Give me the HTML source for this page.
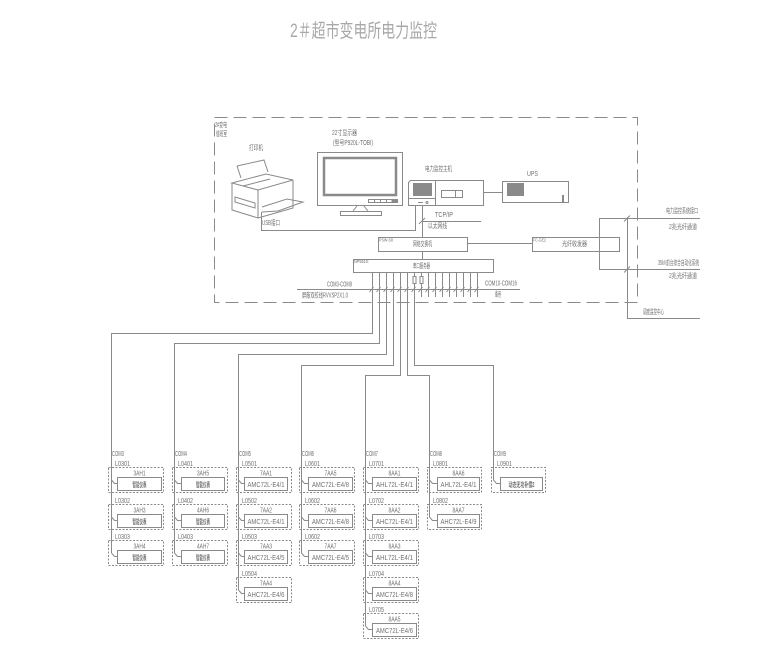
<!DOCTYPE html>
<html><head><meta charset="utf-8"><style>
html,body{margin:0;padding:0;background:#fff;}
svg{display:block}
text{font-family:"Liberation Sans","Noto Sans CJK SC",sans-serif;fill:#707070;font-size:7px}
.s{font-size:4.5px}
.c{text-anchor:middle}
</style></head><body>
<svg width="765" height="669" viewBox="0 0 765 669" xmlns="http://www.w3.org/2000/svg">
<text x="290" y="37" style="font-size:19px;fill:#a8a8a8" textLength="147" lengthAdjust="spacingAndGlyphs">2＃超市变电所电力监控</text>

<g fill="none" stroke="#8a8a8a" stroke-width="1">
<rect x="214.5" y="117.5" width="423" height="185" stroke-dasharray="13 6"/>

<!-- printer -->
<polyline points="237,166 264,160 268,172"/>
<polyline points="237,166 241,178"/>
<polygon points="232,183 266,174 293,180 258,190"/>
<polyline points="232,183 232,210 258,218 258,190"/>
<polyline points="293,180 293,208 258,218"/>
<line x1="243" y1="186" x2="270" y2="179"/>
<polygon points="235,197 255,203 255,208 235,202"/>
<polyline points="262,207 287,199 303,202 278,211 262,212"/>

<!-- monitor -->
<rect x="317.5" y="152.5" width="85" height="53"/>
<rect x="324" y="158" width="72" height="37" stroke-width="2.5"/>
<rect x="368.5" y="199.5" width="29" height="3"/>
<line x1="374.5" y1="199" x2="374.5" y2="203"/>
<line x1="380.5" y1="199" x2="380.5" y2="203"/>
<line x1="386.5" y1="199" x2="386.5" y2="203"/>
<rect x="392" y="199.5" width="5" height="3" fill="#8a8a8a"/>
<line x1="357" y1="206" x2="353" y2="211"/>
<line x1="364" y1="206" x2="368" y2="211"/>
<rect x="340.5" y="211.5" width="41" height="4"/>

<!-- computer -->
<polygon points="410.5,180.5 483.5,180.5 483.5,205.5 408.5,205.5 408.5,182.5"/>
<line x1="435.5" y1="180" x2="435.5" y2="205"/>
<line x1="408" y1="198.5" x2="435" y2="198.5"/>
<rect x="413" y="183" width="19" height="13" fill="#8a8a8a" stroke="none"/>
<line x1="418" y1="202.5" x2="423" y2="202.5"/>
<circle cx="427" cy="202.5" r="1"/>
<rect x="441.5" y="190.5" width="21" height="7"/>
<line x1="455.5" y1="190" x2="455.5" y2="197"/>

<!-- UPS -->
<rect x="502.5" y="181.5" width="66" height="21"/>
<rect x="507" y="183" width="17" height="13" fill="#8a8a8a" stroke="none"/>
<rect x="562" y="195" width="2" height="7" fill="#8a8a8a" stroke="none"/>
<line x1="483" y1="192.5" x2="502" y2="192.5"/>

<!-- usb / tcp -->
<polyline points="261.5,212 261.5,230.5 415.5,230.5 415.5,205"/>
<line x1="422.5" y1="205" x2="422.5" y2="237"/>
<line x1="419" y1="224" x2="425" y2="218"/>
<line x1="422" y1="221.5" x2="481" y2="221.5"/>

<!-- switch, fiber, terminal -->
<rect x="378.5" y="237.5" width="89" height="14"/>
<line x1="467" y1="243.5" x2="532" y2="243.5"/>
<rect x="532.5" y="237.5" width="87" height="14"/>
<line x1="422.5" y1="251" x2="422.5" y2="259"/>
<rect x="353.5" y="259.5" width="140" height="13"/>

<!-- right side -->
<line x1="599.5" y1="218" x2="599.5" y2="269.5"/>
<line x1="599" y1="218.5" x2="700" y2="218.5"/>
<line x1="599" y1="269.5" x2="700" y2="269.5"/>
<line x1="627.5" y1="217" x2="627.5" y2="318.5"/>
<line x1="627" y1="318.5" x2="700" y2="318.5"/>
<line x1="624" y1="221.5" x2="630" y2="215.5"/>
<line x1="624" y1="272.5" x2="630" y2="266.5"/>

<!-- bus -->
<line x1="297" y1="289.5" x2="520" y2="289.5"/>
<polyline points="372.5,272 372.5,333.5 111.5,333.5"/>
<polyline points="379.5,272 379.5,343.5 174.5,343.5"/>
<polyline points="386.5,272 386.5,354.5 238.5,354.5"/>
<polyline points="393.5,272 393.5,365.5 301.5,365.5"/>
<polyline points="400.5,272 400.5,375.5 365.5,375.5"/>
<polyline points="407.5,272 407.5,375.5 429.5,375.5"/>
<polyline points="414.5,272 414.5,365.5 493.5,365.5"/>
<line x1="421.5" y1="272" x2="421.5" y2="297"/>
<line x1="428.5" y1="272" x2="428.5" y2="297"/>
<line x1="435.5" y1="272" x2="435.5" y2="297"/>
<line x1="442.5" y1="272" x2="442.5" y2="297"/>
<line x1="449.5" y1="272" x2="449.5" y2="297"/>
<line x1="456.5" y1="272" x2="456.5" y2="297"/>
<line x1="463.5" y1="272" x2="463.5" y2="297"/>
<line x1="470.5" y1="272" x2="470.5" y2="297"/>
<line x1="477.5" y1="272" x2="477.5" y2="297"/>
<rect x="413" y="276.5" width="3" height="7" fill="#fff"/>
<rect x="420" y="276.5" width="3" height="7" fill="#fff"/>
<g>
<line x1="369.5" y1="292" x2="373.5" y2="287"/>
<line x1="376.5" y1="292" x2="380.5" y2="287"/>
<line x1="383.5" y1="292" x2="387.5" y2="287"/>
<line x1="390.5" y1="292" x2="394.5" y2="287"/>
<line x1="397.5" y1="292" x2="401.5" y2="287"/>
<line x1="404.5" y1="292" x2="408.5" y2="287"/>
<line x1="411.5" y1="292" x2="415.5" y2="287"/>
<line x1="418.5" y1="292" x2="422.5" y2="287"/>
<line x1="425.5" y1="292" x2="429.5" y2="287"/>
<line x1="432.5" y1="292" x2="436.5" y2="287"/>
<line x1="439.5" y1="292" x2="443.5" y2="287"/>
<line x1="446.5" y1="292" x2="450.5" y2="287"/>
<line x1="453.5" y1="292" x2="457.5" y2="287"/>
<line x1="460.5" y1="292" x2="464.5" y2="287"/>
<line x1="467.5" y1="292" x2="471.5" y2="287"/>
<line x1="474.5" y1="292" x2="478.5" y2="287"/>
</g>

<!-- column verticals -->
<line x1="111.5" y1="333" x2="111.5" y2="553"/>
<line x1="174.5" y1="343" x2="174.5" y2="553"/>
<line x1="238.5" y1="354" x2="238.5" y2="590"/>
<line x1="301.5" y1="365" x2="301.5" y2="553"/>
<line x1="365.5" y1="375" x2="365.5" y2="626"/>
<line x1="429.5" y1="375" x2="429.5" y2="517"/>
<line x1="493.5" y1="365" x2="493.5" y2="480"/>

<!-- dashed group boxes -->
<g stroke-dasharray="2 1.5">
<rect x="108.5" y="467.5" width="55" height="25"/><rect x="108.5" y="504.5" width="55" height="25"/><rect x="108.5" y="540.5" width="55" height="25"/>
<rect x="172.5" y="467.5" width="55" height="25"/><rect x="172.5" y="504.5" width="55" height="25"/><rect x="172.5" y="540.5" width="55" height="25"/>
<rect x="236.5" y="467.5" width="55" height="25"/><rect x="236.5" y="504.5" width="55" height="25"/><rect x="236.5" y="540.5" width="55" height="25"/><rect x="236.5" y="577.5" width="55" height="25"/>
<rect x="299.5" y="467.5" width="55" height="25"/><rect x="299.5" y="504.5" width="55" height="25"/><rect x="299.5" y="540.5" width="55" height="25"/>
<rect x="363.5" y="467.5" width="55" height="25"/><rect x="363.5" y="504.5" width="55" height="25"/><rect x="363.5" y="540.5" width="55" height="25"/><rect x="363.5" y="577.5" width="55" height="25"/><rect x="363.5" y="613.5" width="55" height="25"/>
<rect x="427.5" y="467.5" width="54" height="25"/><rect x="427.5" y="504.5" width="54" height="25"/>
<rect x="491.5" y="467.5" width="54" height="25"/>
</g>

<!-- inner boxes -->
<rect x="117.5" y="477.5" width="44" height="13"/><rect x="117.5" y="514.5" width="44" height="13"/><rect x="117.5" y="550.5" width="44" height="13"/>
<rect x="181.5" y="477.5" width="43" height="13"/><rect x="181.5" y="514.5" width="43" height="13"/><rect x="181.5" y="550.5" width="43" height="13"/>
<rect x="244.5" y="477.5" width="43" height="13"/><rect x="244.5" y="514.5" width="43" height="13"/><rect x="244.5" y="550.5" width="43" height="13"/><rect x="244.5" y="587.5" width="43" height="13"/>
<rect x="308.5" y="477.5" width="44" height="13"/><rect x="308.5" y="514.5" width="44" height="13"/><rect x="308.5" y="550.5" width="44" height="13"/>
<rect x="372.5" y="477.5" width="44" height="13"/><rect x="372.5" y="514.5" width="44" height="13"/><rect x="372.5" y="550.5" width="44" height="13"/><rect x="372.5" y="587.5" width="44" height="13"/><rect x="372.5" y="623.5" width="44" height="13"/>
<rect x="437.5" y="477.5" width="42" height="13"/><rect x="437.5" y="514.5" width="42" height="13"/>
<rect x="500.5" y="477.5" width="42" height="13"/>

<!-- connectors -->
<polyline points="111.5,480 114.5,483.5 117.5,483.5"/><polyline points="111.5,517 114.5,520.5 117.5,520.5"/><polyline points="111.5,553 114.5,556.5 117.5,556.5"/>
<polyline points="174.5,480 177.5,483.5 181.5,483.5"/><polyline points="174.5,517 177.5,520.5 181.5,520.5"/><polyline points="174.5,553 177.5,556.5 181.5,556.5"/>
<polyline points="238.5,480 241.5,483.5 244.5,483.5"/><polyline points="238.5,517 241.5,520.5 244.5,520.5"/><polyline points="238.5,553 241.5,556.5 244.5,556.5"/><polyline points="238.5,590 241.5,593.5 244.5,593.5"/>
<polyline points="301.5,480 304.5,483.5 308.5,483.5"/><polyline points="301.5,517 304.5,520.5 308.5,520.5"/><polyline points="301.5,553 304.5,556.5 308.5,556.5"/>
<polyline points="365.5,480 368.5,483.5 372.5,483.5"/><polyline points="365.5,517 368.5,520.5 372.5,520.5"/><polyline points="365.5,553 368.5,556.5 372.5,556.5"/><polyline points="365.5,590 368.5,593.5 372.5,593.5"/><polyline points="365.5,626 368.5,629.5 372.5,629.5"/>
<polyline points="429.5,480 432.5,483.5 437.5,483.5"/><polyline points="429.5,517 432.5,520.5 437.5,520.5"/>
<polyline points="493.5,480 496.5,483.5 500.5,483.5"/>
</g>

<!-- upper labels -->
<text x="215" y="127" textLength="12" lengthAdjust="spacingAndGlyphs">2#变电</text>
<text x="216" y="136" textLength="11" lengthAdjust="spacingAndGlyphs">值班室</text>
<text x="249" y="150" textLength="14" lengthAdjust="spacingAndGlyphs">打印机</text>
<text x="332" y="135" textLength="25" lengthAdjust="spacingAndGlyphs">22寸显示器</text>
<text x="333" y="145" textLength="40" lengthAdjust="spacingAndGlyphs">(型号P920L-TOBI)</text>
<text x="262" y="225" textLength="18" lengthAdjust="spacingAndGlyphs">USB接口</text>
<text x="425" y="171" textLength="27" lengthAdjust="spacingAndGlyphs">电力监控主机</text>
<text x="527" y="176" textLength="11" lengthAdjust="spacingAndGlyphs">UPS</text>
<text x="435" y="217" textLength="18" lengthAdjust="spacingAndGlyphs">TCP/IP</text>
<text x="428" y="228" textLength="19" lengthAdjust="spacingAndGlyphs">以太网线</text>
<text class="s" x="379" y="241.5" textLength="14" lengthAdjust="spacingAndGlyphs">PSW-S8</text>
<text x="413" y="246" textLength="19" lengthAdjust="spacingAndGlyphs">网络交换机</text>
<text class="s" x="533" y="241.5" textLength="13" lengthAdjust="spacingAndGlyphs">FC-GE2</text>
<text x="562" y="246" textLength="25" lengthAdjust="spacingAndGlyphs">光纤收发器</text>
<text class="s" x="354" y="263" textLength="15" lengthAdjust="spacingAndGlyphs">NP5610:</text>
<text x="413" y="268" textLength="17" lengthAdjust="spacingAndGlyphs">串口服务器</text>
<text x="327" y="286.5" textLength="25" lengthAdjust="spacingAndGlyphs">COM3-COM9</text>
<text x="302" y="297.5" textLength="46" lengthAdjust="spacingAndGlyphs">屏蔽双绞线RVVSP2X1.0</text>
<text x="485" y="285.5" textLength="32" lengthAdjust="spacingAndGlyphs">COM10-COM16</text>
<text x="495" y="296.5" textLength="6" lengthAdjust="spacingAndGlyphs">备用</text>
<text x="666" y="213" textLength="32" lengthAdjust="spacingAndGlyphs">电力监控系统接口</text>
<text x="669" y="229" textLength="28" lengthAdjust="spacingAndGlyphs">2兆光纤通道</text>
<text x="658" y="265" textLength="41" lengthAdjust="spacingAndGlyphs">35kV前台综合自动化系统</text>
<text x="669" y="278" textLength="28" lengthAdjust="spacingAndGlyphs">2兆光纤通道</text>
<text x="643" y="314" textLength="21" lengthAdjust="spacingAndGlyphs">调度监控中心</text>

<!-- COM labels -->
<text x="112" y="456" textLength="12" lengthAdjust="spacingAndGlyphs">COM3</text>
<text x="175" y="456" textLength="12" lengthAdjust="spacingAndGlyphs">COM4</text>
<text x="239" y="456" textLength="12" lengthAdjust="spacingAndGlyphs">COM5</text>
<text x="302" y="456" textLength="12" lengthAdjust="spacingAndGlyphs">COM6</text>
<text x="366" y="456" textLength="12" lengthAdjust="spacingAndGlyphs">COM7</text>
<text x="430" y="456" textLength="12" lengthAdjust="spacingAndGlyphs">COM8</text>
<text x="494" y="456" textLength="12" lengthAdjust="spacingAndGlyphs">COM9</text>

<!-- L labels -->
<g>
<text x="115" y="466" textLength="15" lengthAdjust="spacingAndGlyphs">L0301</text>
<text x="115" y="503" textLength="15" lengthAdjust="spacingAndGlyphs">L0302</text>
<text x="115" y="539" textLength="15" lengthAdjust="spacingAndGlyphs">L0303</text>
<text x="178" y="466" textLength="15" lengthAdjust="spacingAndGlyphs">L0401</text>
<text x="178" y="503" textLength="15" lengthAdjust="spacingAndGlyphs">L0402</text>
<text x="178" y="539" textLength="15" lengthAdjust="spacingAndGlyphs">L0403</text>
<text x="242" y="466" textLength="15" lengthAdjust="spacingAndGlyphs">L0501</text>
<text x="242" y="503" textLength="15" lengthAdjust="spacingAndGlyphs">L0502</text>
<text x="242" y="539" textLength="15" lengthAdjust="spacingAndGlyphs">L0503</text>
<text x="242" y="576" textLength="15" lengthAdjust="spacingAndGlyphs">L0504</text>
<text x="305" y="466" textLength="15" lengthAdjust="spacingAndGlyphs">L0601</text>
<text x="305" y="503" textLength="15" lengthAdjust="spacingAndGlyphs">L0602</text>
<text x="305" y="539" textLength="15" lengthAdjust="spacingAndGlyphs">L0602</text>
<text x="369" y="466" textLength="15" lengthAdjust="spacingAndGlyphs">L0701</text>
<text x="369" y="503" textLength="15" lengthAdjust="spacingAndGlyphs">L0702</text>
<text x="369" y="539" textLength="15" lengthAdjust="spacingAndGlyphs">L0703</text>
<text x="369" y="576" textLength="15" lengthAdjust="spacingAndGlyphs">L0704</text>
<text x="369" y="612" textLength="15" lengthAdjust="spacingAndGlyphs">L0705</text>
<text x="433" y="466" textLength="15" lengthAdjust="spacingAndGlyphs">L0801</text>
<text x="433" y="503" textLength="15" lengthAdjust="spacingAndGlyphs">L0802</text>
<text x="497" y="466" textLength="15" lengthAdjust="spacingAndGlyphs">L0901</text>
</g>

<!-- titles -->
<g>
<text class="c" x="139.5" y="475.5" textLength="12" lengthAdjust="spacingAndGlyphs">3AH1</text>
<text class="c" x="139.5" y="512.5" textLength="12" lengthAdjust="spacingAndGlyphs">3AH3</text>
<text class="c" x="139.5" y="548.5" textLength="12" lengthAdjust="spacingAndGlyphs">3AH4</text>
<text class="c" x="203" y="475.5" textLength="12" lengthAdjust="spacingAndGlyphs">3AH5</text>
<text class="c" x="203" y="512.5" textLength="12" lengthAdjust="spacingAndGlyphs">4AH6</text>
<text class="c" x="203" y="548.5" textLength="12" lengthAdjust="spacingAndGlyphs">4AH7</text>
<text class="c" x="266" y="475.5" textLength="12" lengthAdjust="spacingAndGlyphs">7AA1</text>
<text class="c" x="266" y="512.5" textLength="12" lengthAdjust="spacingAndGlyphs">7AA2</text>
<text class="c" x="266" y="548.5" textLength="12" lengthAdjust="spacingAndGlyphs">7AA3</text>
<text class="c" x="266" y="585.5" textLength="12" lengthAdjust="spacingAndGlyphs">7AA4</text>
<text class="c" x="330.5" y="475.5" textLength="12" lengthAdjust="spacingAndGlyphs">7AA5</text>
<text class="c" x="330.5" y="512.5" textLength="12" lengthAdjust="spacingAndGlyphs">7AA6</text>
<text class="c" x="330.5" y="548.5" textLength="12" lengthAdjust="spacingAndGlyphs">7AA7</text>
<text class="c" x="394.5" y="475.5" textLength="12" lengthAdjust="spacingAndGlyphs">8AA1</text>
<text class="c" x="394.5" y="512.5" textLength="12" lengthAdjust="spacingAndGlyphs">8AA2</text>
<text class="c" x="394.5" y="548.5" textLength="12" lengthAdjust="spacingAndGlyphs">8AA3</text>
<text class="c" x="394.5" y="585.5" textLength="12" lengthAdjust="spacingAndGlyphs">8AA4</text>
<text class="c" x="394.5" y="621.5" textLength="12" lengthAdjust="spacingAndGlyphs">8AA5</text>
<text class="c" x="458.5" y="475.5" textLength="12" lengthAdjust="spacingAndGlyphs">8AA6</text>
<text class="c" x="458.5" y="512.5" textLength="12" lengthAdjust="spacingAndGlyphs">8AA7</text>
</g>

<!-- inner texts -->
<g style="fill:#5e5e5e;font-weight:bold">
<text class="c" x="139.5" y="487" textLength="14" lengthAdjust="spacingAndGlyphs">智能仪表</text>
<text class="c" x="139.5" y="524" textLength="14" lengthAdjust="spacingAndGlyphs">智能仪表</text>
<text class="c" x="139.5" y="560" textLength="14" lengthAdjust="spacingAndGlyphs">智能仪表</text>
<text class="c" x="203" y="487" textLength="14" lengthAdjust="spacingAndGlyphs">智能仪表</text>
<text class="c" x="203" y="524" textLength="14" lengthAdjust="spacingAndGlyphs">智能仪表</text>
<text class="c" x="203" y="560" textLength="14" lengthAdjust="spacingAndGlyphs">智能仪表</text>
</g>
<g style="fill:#666">
<text class="c" x="266" y="487" textLength="37" lengthAdjust="spacingAndGlyphs">AMC72L-E4/1</text>
<text class="c" x="266" y="524" textLength="37" lengthAdjust="spacingAndGlyphs">AMC72L-E4/1</text>
<text class="c" x="266" y="560" textLength="37" lengthAdjust="spacingAndGlyphs">AHC72L-E4/5</text>
<text class="c" x="266" y="597" textLength="37" lengthAdjust="spacingAndGlyphs">AHC72L-E4/6</text>
<text class="c" x="330.5" y="487" textLength="37" lengthAdjust="spacingAndGlyphs">AMC72L-E4/8</text>
<text class="c" x="330.5" y="524" textLength="37" lengthAdjust="spacingAndGlyphs">AMC72L-E4/8</text>
<text class="c" x="330.5" y="560" textLength="37" lengthAdjust="spacingAndGlyphs">AMC72L-E4/5</text>
<text class="c" x="394.5" y="487" textLength="37" lengthAdjust="spacingAndGlyphs">AHL72L-E4/1</text>
<text class="c" x="394.5" y="524" textLength="37" lengthAdjust="spacingAndGlyphs">AHC72L-E4/1</text>
<text class="c" x="394.5" y="560" textLength="37" lengthAdjust="spacingAndGlyphs">AHL72L-E4/1</text>
<text class="c" x="394.5" y="597" textLength="37" lengthAdjust="spacingAndGlyphs">AMC72L-E4/8</text>
<text class="c" x="394.5" y="633" textLength="37" lengthAdjust="spacingAndGlyphs">AMC72L-E4/6</text>
<text class="c" x="458.5" y="487" textLength="36" lengthAdjust="spacingAndGlyphs">AHL72L-E4/1</text>
<text class="c" x="458.5" y="524" textLength="36" lengthAdjust="spacingAndGlyphs">AHC72L-E4/9</text>
<text class="c" x="521.5" y="487" textLength="26" lengthAdjust="spacingAndGlyphs" style="font-weight:bold">动态无功补偿2</text>
</g>
</svg>
</body></html>
